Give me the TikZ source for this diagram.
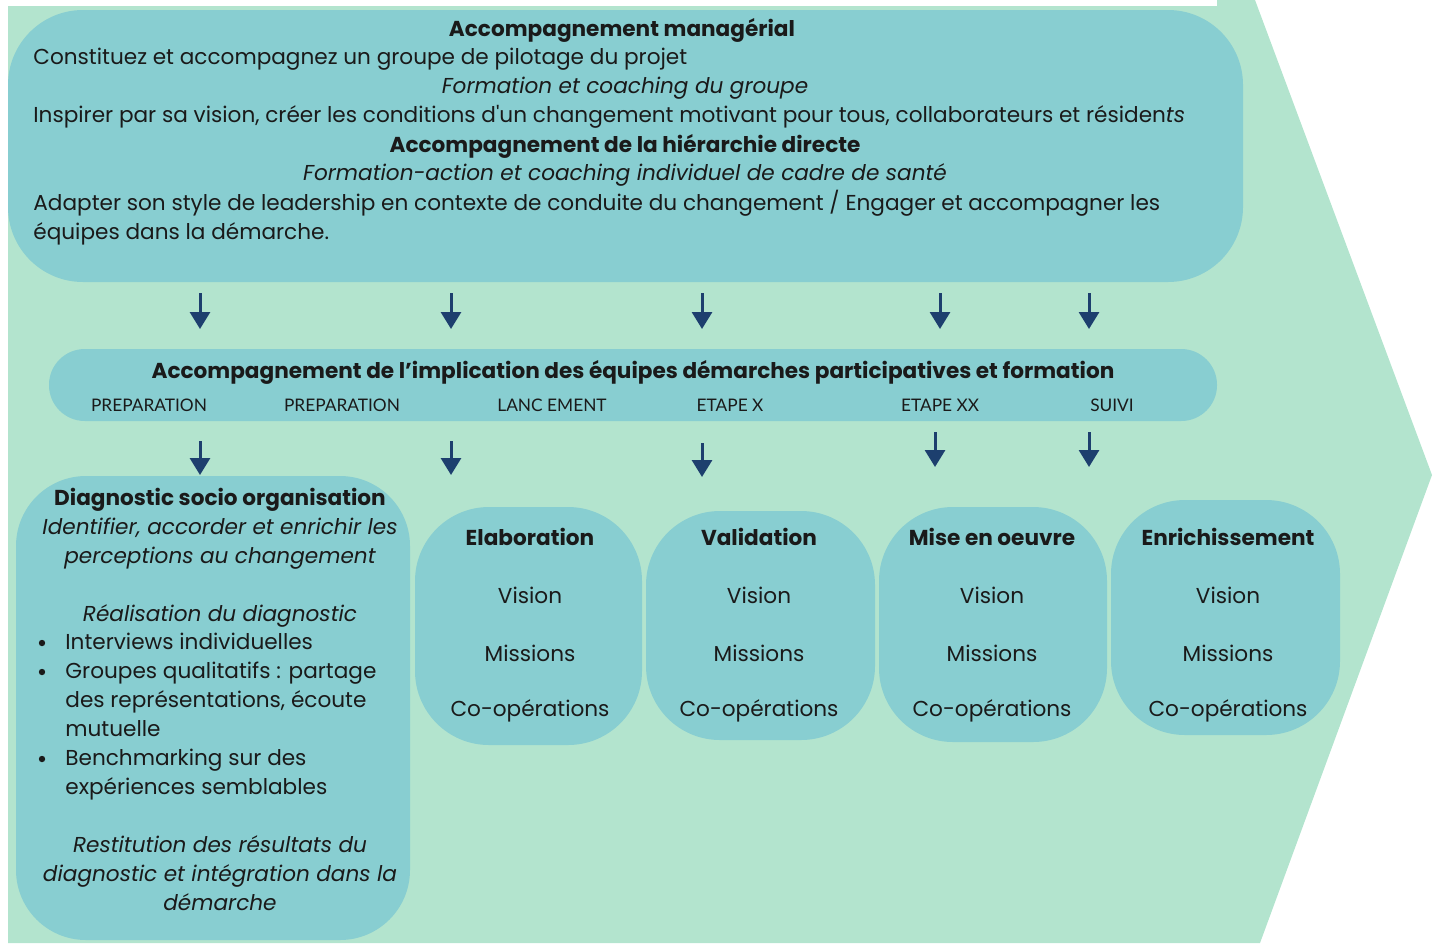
\documentclass[tikz,border=0pt]{standalone}
\usepackage{fontspec}
\setmainfont{Poppins}
\newfontfamily\phasefont{Lato}
\usetikzlibrary{arrows.meta}
\definecolor{bggreen}{HTML}{B3E4CE}
\definecolor{boxteal}{HTML}{88CED1}
\definecolor{arrowblue}{HTML}{1D3F6E}
\definecolor{ink}{HTML}{1A1A1A}
\begin{document}
\begin{tikzpicture}[x=0.5pt, y=-0.5pt,
    box/.style={fill=boxteal, inner sep=0pt},
    txt/.style={inner sep=0pt, text=ink, font=\fontsize{10.8}{14.5}\selectfont},
    bold/.style={txt, font=\bfseries\fontsize{10.8}{14.5}\selectfont},
    ital/.style={txt, font=\itshape\fontsize{10.8}{14.5}\selectfont},
    dot/.style={circle, fill=ink, inner sep=0pt, minimum size=3.2pt},
    phase/.style={inner sep=0pt, text=ink, font=\phasefont\fontsize{8.65}{10}\selectfont},
    flow/.style={-{Triangle[width=10pt, length=8.5pt]}, line width=1.5pt, arrowblue}]
        % background arrow
        \useasboundingbox (0,0) rectangle (1439,943);
        \fill[bggreen] (8,0) -- (1255,0) -- (1432,475) -- (1260,943) -- (8,943) -- cycle;
        \fill[white] (0,0) rectangle (1217,6);
        % boxes
        \node[box, minimum width=617.5pt, minimum height=136pt, rounded corners=37.5pt] (mgmt) at (625.5,146) {};
        \node[box, minimum width=584pt, minimum height=36pt, rounded corners=17.9pt] (bar) at (633,385) {};
        \node[box, minimum width=197pt, minimum height=232pt, rounded corners=35pt] (diag) at (213,708) {};
        \node[box, minimum width=113.5pt, minimum height=119pt, rounded corners=37pt] (elab) at (528.5,626) {};
        \node[box, minimum width=114.5pt, minimum height=114.5pt, rounded corners=37pt] (valid) at (760.5,625.5) {};
        \node[box, minimum width=114pt, minimum height=117.5pt, rounded corners=37pt] (mise) at (993,624.5) {};
        \node[box, minimum width=114.5pt, minimum height=117.5pt, rounded corners=37pt] (enrich) at (1225.5,617.5) {};
        % top box text
        \node[bold] (t1) at (622,30) {Accompagnement managérial};
        \node[txt, anchor=west] (t2) at (33,59) {Constituez et accompagnez un groupe de pilotage du projet};
        \node[ital] (t3) at (625,88) {Formation et coaching du groupe};
        \node[txt, anchor=west] (t4) at (33,117) {Inspirer par sa vision, créer les conditions d\textquotesingle un changement motivant pour tous, collaborateurs et résiden\textit{ts}};
        \node[bold] (t5) at (625,146) {Accompagnement de la hiérarchie directe};
        \node[ital] (t6) at (625,175) {Formation-action et coaching individuel de cadre de santé};
        \node[txt, anchor=north west, align=left] (t7) at (33,190) {Adapter son style de leadership en contexte de conduite du changement / Engager et accompagner les\\équipes dans la démarche.};
        % middle bar text
        \node[bold] (b0) at (633,372) {Accompagnement de l’implication des équipes démarches participatives et formation};
        \node[phase] (p1) at (149,405) {PREPARATION};
        \node[phase] (p2) at (342,405) {PREPARATION};
        \node[phase] (p3) at (552,405) {LANC EMENT};
        \node[phase] (p4) at (730,405) {ETAPE X};
        \node[phase] (p5) at (940,405) {ETAPE XX};
        \node[phase] (p6) at (1112,405) {SUIVI};
        % arrows
        \coordinate (u1a) at (200,293); \coordinate (u1b) at (200,329);
        \coordinate (u2a) at (451,293); \coordinate (u2b) at (451,329);
        \coordinate (u3a) at (702,293); \coordinate (u3b) at (702,329);
        \coordinate (u4a) at (940,293); \coordinate (u4b) at (940,329);
        \coordinate (u5a) at (1089,293); \coordinate (u5b) at (1089,329);
        \coordinate (l1a) at (200,441); \coordinate (l1b) at (200,475);
        \coordinate (l2a) at (451,441); \coordinate (l2b) at (451,475);
        \coordinate (l3a) at (702,443); \coordinate (l3b) at (702,477);
        \coordinate (l4a) at (935,432); \coordinate (l4b) at (935,467);
        \coordinate (l5a) at (1089,432); \coordinate (l5b) at (1089,467);
        \draw[flow] (u1a) -- (u1b);
        \draw[flow] (u2a) -- (u2b);
        \draw[flow] (u3a) -- (u3b);
        \draw[flow] (u4a) -- (u4b);
        \draw[flow] (u5a) -- (u5b);
        \draw[flow] (l1a) -- (l1b);
        \draw[flow] (l2a) -- (l2b);
        \draw[flow] (l3a) -- (l3b);
        \draw[flow] (l4a) -- (l4b);
        \draw[flow] (l5a) -- (l5b);
        % diagnostic box text
        \node[txt, anchor=north, align=center] (d1) at (220,488) {\textbf{Diagnostic socio organisation}\\\itshape Identifier, accorder et enrichir les\\\itshape perceptions au changement\\[14.5pt]\itshape Réalisation du diagnostic};
        \node[txt, anchor=north west, align=left] (d2) at (65,633) {Interviews individuelles\\Groupes qualitatifs : partage\\des représentations, écoute\\mutuelle\\Benchmarking sur des\\expériences semblables};
        \node[dot] (dot1) at (42,643) {};
        \node[dot] (dot2) at (42,672) {};
        \node[dot] (dot3) at (42,759) {};
        \node[ital, anchor=north, align=center] (d3) at (220,835) {Restitution des résultats du\\diagnostic et intégration dans la\\démarche};
        % phase boxes text
        \foreach \name/\cx/\title in {elab/530/Elaboration, valid/759/Validation, mise/992/Mise en oeuvre, enrich/1228/Enrichissement} {
            \node[bold] (\name-t) at (\cx,537) {\title};
            \node[txt] (\name-v) at (\cx,595) {Vision};
            \node[txt] (\name-m) at (\cx,653) {Missions};
            \node[txt] (\name-c) at (\cx,711) {Co-opérations};
        }
    \end{tikzpicture}
\end{document}
